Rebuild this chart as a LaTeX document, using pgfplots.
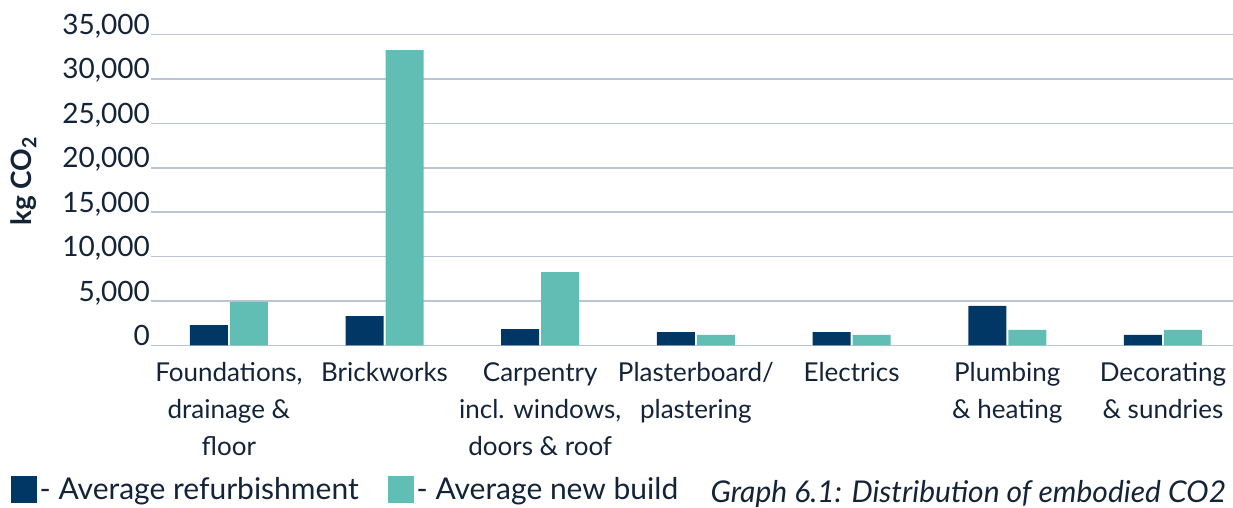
\documentclass[border=0pt]{standalone}
\usepackage{fontspec}
\setmainfont{Lato}
\usepackage{pgfplots}
\pgfplotsset{compat=1.18}
\definecolor{navy}{RGB}{0,55,100}
\definecolor{tealbar}{RGB}{96,190,180}
\definecolor{gridc}{RGB}{186,197,212}
\definecolor{txt}{RGB}{20,35,55}

\begin{document}
\begin{tikzpicture}
\path[use as bounding box] (-75.5pt,-81.25pt) rectangle (541pt,172.75pt);
\begin{axis}[
  width=541pt, height=155.5pt, scale only axis, clip=false,
  xmin=-0.5, xmax=6.45, ymin=0, ymax=35000,
  ybar=1pt, bar width=19pt,
  axis line style={draw=none}, major tick length=0pt,
  ymajorgrids=true, grid style={gridc, line width=0.85pt},
  ytick={0,5000,...,35000},
  scaled y ticks=false,
  /pgf/number format/1000 sep={,},
  /pgf/number format/assume math mode=true,
  yticklabel style={font=\fontsize{14}{16}\selectfont, text=txt, anchor=base east, xshift=3pt},
  xtick={0,...,6},
  xticklabels={{Foundations,\\drainage \&\\floor}, Brickworks, {Carpentry\\incl. windows,\\doors \& roof}, {Plasterboard/\\plastering}, Electrics, {Plumbing\\\& heating}, {Decorating\\\& sundries}},
  xticklabel style={align=center, font=\fontsize{13}{18.5}\selectfont, text=txt, yshift=-5pt},
  ylabel={kg CO\textsubscript{2}},
  ylabel style={at={(axis description cs:-0.1174,0.529)}, anchor=center, font=\bfseries\fontsize{14}{16}\selectfont, text=txt},
  legend style={at={(axis description cs:-0.130,-0.463)}, anchor=west, draw=none, fill=none, inner sep=0pt,
    legend columns=2, font=\fontsize{15}{17}\selectfont, text=txt,
    nodes={inner xsep=1.5pt},
    /tikz/every even column/.style={column sep=13pt}},
  legend image code/.code={\fill[#1] (0pt,-6.75pt) rectangle (13pt,6.75pt);},
]
\addplot[fill=navy, draw=none] coordinates {
  (0,2300) (1,3300) (2,1850) (3,1500) (4,1500) (5,4450) (6,1200)
};
\addplot[fill=tealbar, draw=none] coordinates {
  (0,4900) (1,33250) (2,8270) (3,1200) (4,1200) (5,1750) (6,1750)
};
\legend{- Average refurbishment, - Average new build}
\node[anchor=base east, font=\itshape\fontsize{15}{17}\selectfont, text=txt] at (axis description cs:1.0,-0.505) {Graph 6.1: Distribution of embodied CO2};
\end{axis}
\end{tikzpicture}
\end{document}
